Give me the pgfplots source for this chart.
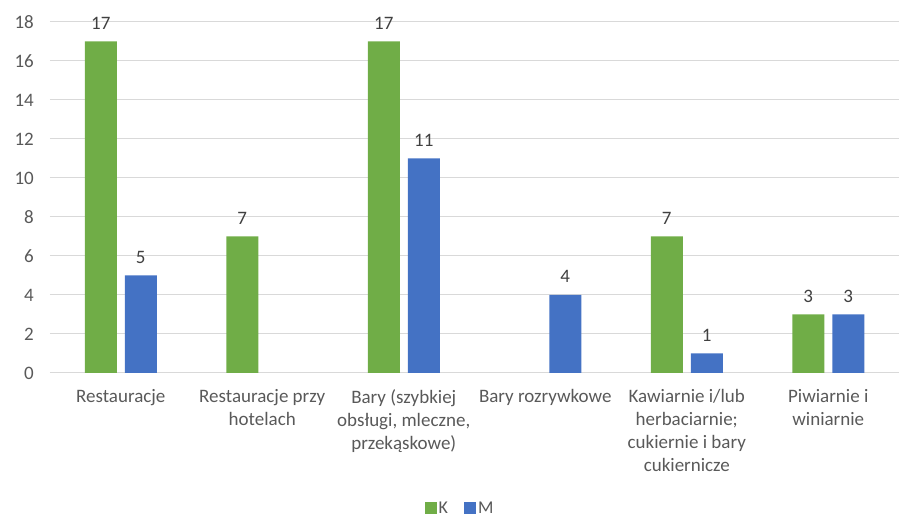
\documentclass[border=0pt]{standalone}
\usepackage{pgfplots}
\pgfplotsset{compat=1.18}
\usepackage{fontspec}
\setmainfont{Carlito}
\definecolor{kgreen}{HTML}{70AD47}
\definecolor{mblue}{HTML}{4472C4}
\definecolor{txt}{HTML}{595959}
\definecolor{lbl}{HTML}{404040}
\definecolor{grd}{HTML}{D9D9D9}
\begin{document}
\begin{tikzpicture}
\useasboundingbox (0pt,0pt) rectangle (899pt,516pt);
\begin{axis}[
at={(50pt,143pt)}, anchor=south west,
scale only axis,
width=849pt, height=351pt,
/pgf/number format/assume math mode=true,
ybar=8pt, bar width=32pt,
xmin=-0.5, xmax=5.5,
ymin=0, ymax=18,
ytick={0,2,...,18},
xtick={0,1,2,3,4,5},
xticklabels={Restauracje,
  {Restauracje przy\\hotelach},
  {Bary (szybkiej\\obsługi, mleczne,\\przekąskowe)},
  {Bary rozrywkowe},
  {Kawiarnie i/lub\\herbaciarnie;\\cukiernie i bary\\cukiernicze},
  {Piwiarnie i\\winiarnie}},
ymajorgrids, grid style={grd, line width=1pt},
axis line style={draw=none},
major tick length=0pt,
tick label style={font=\fontsize{19}{23}\selectfont, text=txt},
yticklabel style={inner sep=0pt, anchor=east, xshift=-16pt},
xticklabel style={inner sep=0pt, anchor=north, align=center, yshift=-16pt},
nodes near coords,
every node near coord/.append style={font=\fontsize{19}{23}\selectfont, text=lbl, inner sep=0pt, anchor=south, yshift=12pt},
legend columns=2,
legend style={draw=none, at={(axis description cs:0.483,-0.385)}, anchor=center,
  text=txt, nodes={font=\fontsize{18}{20}\selectfont},
  /tikz/every even column/.append style={column sep=14pt}},
legend image code/.code={\draw[#1, draw=none] (0pt,-6pt) rectangle (12pt,6pt);},
]
\addplot[fill=kgreen, draw=none] coordinates {(0,17) (1,7) (2,17) (4,7) (5,3)};
\addplot[fill=mblue, draw=none] coordinates {(0,5) (2,11) (3,4) (4,1) (5,3)};
\legend{K, M}
\end{axis}
\end{tikzpicture}
\end{document}
